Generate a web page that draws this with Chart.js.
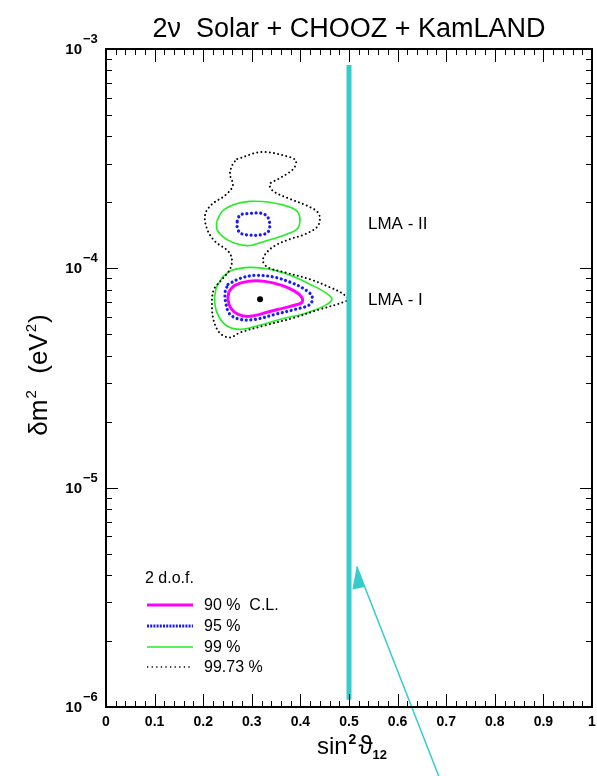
<!DOCTYPE html>
<html>
<head>
<meta charset="utf-8">
<script src="https://cdn.jsdelivr.net/npm/chart.js@4/dist/chart.umd.min.js"></script>
<style>
  html, body { margin: 0; padding: 0; background: #fff; }
  canvas { display: block; }
</style>
</head>
<body>
<canvas id="c" width="597" height="776"></canvas>
<script>
// Allowed regions in the (sin^2 theta12, delta m^2) plane, 2 d.o.f.
// delta m^2 in eV^2.

// 99.73% C.L. (single region enclosing LMA-I and LMA-II)
const cl9973Sin2 = [0.270,0.321,0.379,0.391,0.385,0.354,0.337,0.344,0.379,0.416,0.436,0.440,0.434,0.409,0.379,0.348,0.329,0.323,0.333,0.368,0.420,0.461,0.486,0.498,0.481,0.440,0.389,0.327,0.276,0.255,0.235,0.222,0.218,0.222,0.239,0.255,0.259,0.251,0.224,0.208,0.204,0.218,0.245,0.261,0.255,0.261];
const cl9973Dm2  = [31.5e-5,33.9e-5,32.1e-5,30.8e-5,28.3e-5,25.5e-5,24.2e-5,22.5e-5,20.7e-5,19.2e-5,18.0e-5,16.7e-5,15.4e-5,14.3e-5,13.6e-5,12.7e-5,11.7e-5,10.8e-5,10.1e-5,9.59e-5,8.91e-5,8.19e-5,7.69e-5,7.22e-5,6.92e-5,6.50e-5,5.97e-5,5.49e-5,5.10e-5,4.84e-5,5.05e-5,5.73e-5,6.85e-5,8.02e-5,8.91e-5,9.90e-5,11.0e-5,12.0e-5,13.3e-5,15.1e-5,17.6e-5,19.6e-5,21.5e-5,23.9e-5,26.9e-5,29.9e-5];

// 99% C.L.
const cl99HighSin2 = [0.228,0.239,0.265,0.296,0.337,0.379,0.395,0.399,0.393,0.368,0.327,0.296,0.265,0.241,0.228];
const cl99HighDm2  = [16.4e-5,18.2e-5,19.6e-5,20.2e-5,20.0e-5,19.0e-5,18.0e-5,16.4e-5,15.1e-5,14.2e-5,13.3e-5,12.7e-5,13.0e-5,13.9e-5,15.1e-5];
const cl99LowSin2  = [0.239,0.259,0.296,0.337,0.379,0.420,0.451,0.465,0.451,0.409,0.358,0.307,0.276,0.251,0.233,0.224,0.226];
const cl99LowDm2   = [9.10e-5,9.79e-5,10.1e-5,9.90e-5,9.29e-5,8.45e-5,7.77e-5,7.22e-5,6.78e-5,6.23e-5,5.85e-5,5.43e-5,5.27e-5,5.43e-5,5.97e-5,6.85e-5,8.02e-5];

// 95% C.L.
const cl95HighSin2 = [0.270,0.276,0.296,0.321,0.333,0.337,0.333,0.317,0.292,0.276,0.270];
const cl95HighDm2  = [16.4e-5,17.5e-5,17.8e-5,17.8e-5,17.1e-5,15.7e-5,14.6e-5,14.2e-5,14.2e-5,14.5e-5,15.4e-5];
const cl95LowSin2  = [0.251,0.276,0.307,0.348,0.385,0.409,0.424,0.420,0.389,0.348,0.307,0.276,0.255,0.247,0.245];
const cl95LowDm2   = [8.45e-5,9.00e-5,9.29e-5,9.10e-5,8.54e-5,8.02e-5,7.45e-5,6.85e-5,6.50e-5,6.17e-5,5.85e-5,5.85e-5,6.17e-5,6.85e-5,7.77e-5];

// 90% C.L.
const cl90Sin2 = [0.253,0.265,0.292,0.327,0.362,0.389,0.403,0.403,0.379,0.337,0.296,0.272,0.257,0.251];
const cl90Dm2  = [7.85e-5,8.36e-5,8.72e-5,8.72e-5,8.36e-5,7.85e-5,7.37e-5,6.99e-5,6.71e-5,6.36e-5,6.04e-5,6.17e-5,6.57e-5,7.22e-5];

// Best-fit point
const bestFitSin2 = [0.317];
const bestFitDm2  = [7.22e-5];

// Maximal mixing line and the arrow pointing at it
const maxMixSin2 = [0.5, 0.5];
const maxMixDm2  = [1.08e-6, 8.45e-4];
const arrowSin2  = [0.704, 0.516];
const arrowDm2   = [3.76e-7, 4.37e-6];

// Region labels
const regionNames = ['LMA - II', 'LMA - I'];
const regionSin2  = [0.539, 0.539];
const regionDm2   = [1.59e-4, 7.14e-5];

// Axis ticks
const xTickValues = [0,0.1,0.2,0.3,0.4,0.5,0.6,0.7,0.8,0.9,1];
const xTickLabels = ['0','0.1','0.2','0.3','0.4','0.5','0.6','0.7','0.8','0.9','1'];
const yDecades    = [1e-6, 1e-5, 1e-4, 1e-3];
const yExponents  = ['\u22126','\u22125','\u22124','\u22123'];

// Legend
const legendHeader = '2 d.o.f.';
const legendLabels = ['90 %  C.L.', '95 %', '99 %', '99.73 %'];

const FONT = "'Liberation Sans', Arial, 'DejaVu Sans', sans-serif";
const CYAN = '#38cbcb';

function pts(xs, ys, close) {
  const p = xs.map((x, i) => ({ x, y: ys[i] }));
  if (close) p.push({ x: xs[0], y: ys[0] });
  return p;
}

function contour(xs, ys, style) {
  return Object.assign({
    data: pts(xs, ys, true), showLine: true, fill: false,
    pointRadius: 0, pointHoverRadius: 0, tension: 0.35
  }, style);
}

const magenta = { borderColor: '#ff00ff', borderWidth: 3 };
const blueDots = { borderColor: '#1a1aff', borderWidth: 3.2, borderDash: [0.01, 4.6], borderCapStyle: 'round' };
const green = { borderColor: '#22ee22', borderWidth: 1.6 };
const blackDots = { borderColor: '#000', borderWidth: 2, borderDash: [0.01, 4.2], borderCapStyle: 'round' };

function drawRich(ctx, parts, x, y, align) {
  let w = 0;
  parts.forEach(p => { ctx.font = p.font; w += ctx.measureText(p.t).width + (p.gap || 0); });
  let cx = align === 'center' ? x - w / 2 : x;
  ctx.textAlign = 'left';
  ctx.textBaseline = 'alphabetic';
  parts.forEach(p => {
    ctx.font = p.font;
    ctx.fillText(p.t, cx, y + (p.dy || 0));
    cx += ctx.measureText(p.t).width + (p.gap || 0);
  });
}

const decorations = {
  id: 'decorations',
  afterDraw(chart) {
    const ctx = chart.ctx;
    const a = chart.chartArea;
    const xs = chart.scales.x, ys = chart.scales.y;
    ctx.save();
    ctx.fillStyle = '#000';
    ctx.strokeStyle = '#000';

    // arrowhead at the end of the arrow
    const tip = { x: xs.getPixelForValue(arrowSin2[1]), y: ys.getPixelForValue(arrowDm2[1]) };
    const base = { x: xs.getPixelForValue(arrowSin2[0]), y: ys.getPixelForValue(arrowDm2[0]) };
    const len = Math.hypot(base.x - tip.x, base.y - tip.y);
    const ux = (base.x - tip.x) / len, uy = (base.y - tip.y) / len;
    const px = -uy, py = ux;
    ctx.fillStyle = CYAN;
    ctx.beginPath();
    ctx.moveTo(tip.x, tip.y);
    ctx.lineTo(tip.x + 22 * ux, tip.y + 22 * uy);
    ctx.lineTo(tip.x + 19.7 * ux + 12.5 * px, tip.y + 19.7 * uy + 12.5 * py);
    ctx.closePath();
    ctx.fill();
    ctx.fillStyle = '#000';

    // inward ticks
    ctx.lineWidth = 1;
    ctx.beginPath();
    for (let i = 0; i <= 50; i++) {
      const p = Math.round(xs.getPixelForValue(i / 50)) + 0.5;
      const L = i % 5 === 0 ? 13 : 6;
      ctx.moveTo(p, a.bottom); ctx.lineTo(p, a.bottom - L);
      ctx.moveTo(p, a.top); ctx.lineTo(p, a.top + L);
    }
    yDecades.forEach((d, k) => {
      const top = k === yDecades.length - 1 ? 1 : 9;
      for (let m = 1; m <= top; m++) {
        const p = Math.round(ys.getPixelForValue(m * d)) + 0.5;
        const L = m === 1 ? 12 : 6;
        ctx.moveTo(a.left, p); ctx.lineTo(a.left + L, p);
        ctx.moveTo(a.right, p); ctx.lineTo(a.right - L, p);
      }
    });
    ctx.stroke();

    // frame
    ctx.lineWidth = 2;
    ctx.strokeRect(a.left, a.top, a.right - a.left, a.bottom - a.top);

    // x tick labels
    ctx.font = 'bold 14px ' + FONT;
    ctx.textAlign = 'center';
    ctx.textBaseline = 'alphabetic';
    xTickValues.forEach((v, i) => {
      ctx.fillText(xTickLabels[i], xs.getPixelForValue(v), a.bottom + 19);
    });

    // y tick labels: 10^n
    yDecades.forEach((d, i) => {
      const p = ys.getPixelForValue(d);
      ctx.font = 'bold 15px ' + FONT;
      ctx.textAlign = 'right';
      ctx.fillText('10', 82, p + 5);
      ctx.textAlign = 'left';
      ctx.font = 'bold 13px ' + FONT;
      ctx.fillText(yExponents[i], 83, p - 6);
    });

    // region labels
    ctx.font = '17px ' + FONT;
    ctx.textAlign = 'left';
    ctx.textBaseline = 'middle';
    regionNames.forEach((t, i) => {
      ctx.fillText(t, xs.getPixelForValue(regionSin2[i]), ys.getPixelForValue(regionDm2[i]));
    });

    // title
    ctx.textBaseline = 'alphabetic';
    drawRich(ctx, [{ t: '2\u03bd  Solar + CHOOZ + KamLAND', font: '27px ' + FONT }], (a.left + a.right) / 2, 37, 'center');

    // x axis title
    drawRich(ctx, [
      { t: 'sin', font: '24px ' + FONT, gap: 1 },
      { t: '2', font: 'bold 14px ' + FONT, dy: -10, gap: 2 },
      { t: '\u03d1', font: '26px ' + FONT },
      { t: '12', font: 'bold 13px ' + FONT, dy: 5 }
    ], (a.left + a.right) / 2 + 3, 754, 'center');

    // y axis title
    ctx.save();
    ctx.translate(47, 375);
    ctx.rotate(-Math.PI / 2);
    drawRich(ctx, [
      { t: '\u03b4m', font: '26px ' + FONT, gap: 1 },
      { t: '2', font: '15px ' + FONT, dy: -11, gap: 2 },
      { t: '  (eV', font: '26px ' + FONT, gap: 1 },
      { t: '2', font: '15px ' + FONT, dy: -11, gap: 1 },
      { t: ')', font: '26px ' + FONT }
    ], 0, 0, 'center');
    ctx.restore();

    // legend
    ctx.font = '16px ' + FONT;
    ctx.textAlign = 'left';
    ctx.textBaseline = 'middle';
    ctx.fillText(legendHeader, 145, 579);
    const styles = [magenta, blueDots, green, blackDots];
    const rows = [605, 626, 647, 667];
    styles.forEach((s, i) => {
      ctx.save();
      ctx.strokeStyle = s.borderColor;
      ctx.lineWidth = s.borderWidth;
      if (i === 1) { ctx.setLineDash([2, 1.2]); ctx.lineWidth = 3; ctx.lineCap = 'butt'; }
      if (i === 3) { ctx.setLineDash([1.3, 3.3]); ctx.lineWidth = 1.5; ctx.lineCap = 'butt'; }
      ctx.beginPath();
      ctx.moveTo(147, rows[i]);
      ctx.lineTo(193, rows[i]);
      ctx.stroke();
      ctx.restore();
      ctx.fillText(legendLabels[i], 204, rows[i] + 1);
    });

    ctx.restore();
  }
};

new Chart(document.getElementById('c'), {
  type: 'scatter',
  data: {
    datasets: [
      { data: pts(maxMixSin2, maxMixDm2), showLine: true, borderColor: CYAN, borderWidth: 5, pointRadius: 0, borderCapStyle: 'butt' },
      { data: pts(arrowSin2, arrowDm2), showLine: true, borderColor: CYAN, borderWidth: 1.5, pointRadius: 0, clip: false },
      contour(cl9973Sin2, cl9973Dm2, blackDots),
      contour(cl99HighSin2, cl99HighDm2, green),
      contour(cl99LowSin2, cl99LowDm2, green),
      contour(cl95HighSin2, cl95HighDm2, blueDots),
      contour(cl95LowSin2, cl95LowDm2, blueDots),
      contour(cl90Sin2, cl90Dm2, magenta),
      { data: pts(bestFitSin2, bestFitDm2), pointRadius: 3, pointBackgroundColor: '#000', pointBorderWidth: 0 }
    ]
  },
  options: {
    responsive: false,
    animation: false,
    devicePixelRatio: 1,
    layout: { padding: { left: 106, right: 5, top: 49, bottom: 69 } },
    plugins: { legend: { display: false }, tooltip: { enabled: false }, title: { display: false } },
    events: [],
    scales: {
      x: { type: 'linear', min: 0, max: 1, display: false },
      y: { type: 'logarithmic', min: 1e-6, max: 1e-3, display: false }
    }
  },
  plugins: [decorations]
});
</script>
</body>
</html>
